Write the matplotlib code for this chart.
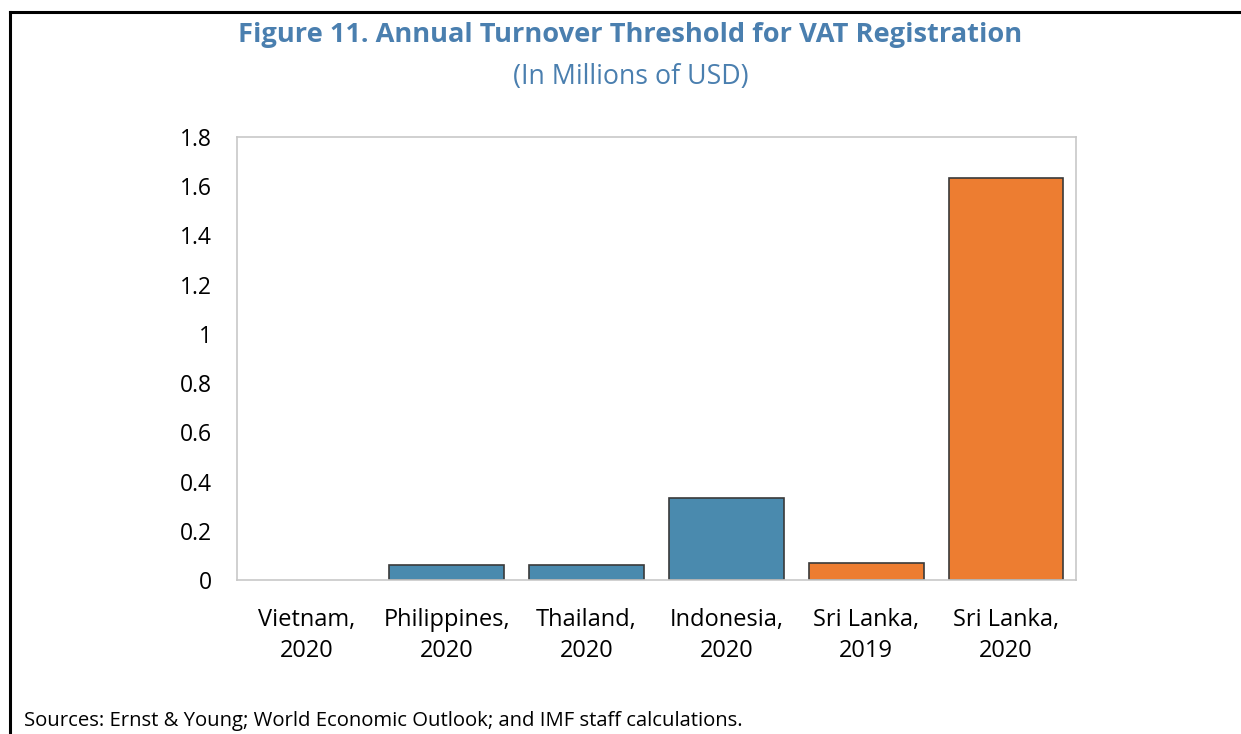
import matplotlib.pyplot as plt
from matplotlib.lines import Line2D
from matplotlib.ticker import FuncFormatter

plt.rcParams['font.family'] = ['Open Sans', 'DejaVu Sans']

categories = ["Vietnam,\n2020", "Philippines,\n2020", "Thailand,\n2020",
              "Indonesia,\n2020", "Sri Lanka,\n2019", "Sri Lanka,\n2020"]
thresholds = [0.0, 0.061, 0.061, 0.333, 0.069, 1.634]
bar_colors = ["#4A8AAE"] * 4 + ["#ED7D31"] * 2

fig = plt.figure(figsize=(12.41, 7.34), dpi=100)
ax = fig.add_axes([0.191, 0.2098, 0.676, 0.6036])

x = range(len(categories))
edges = ["#3a3a3a" if v > 0 else "none" for v in thresholds]
ax.bar(x, thresholds, width=0.82, color=bar_colors, edgecolor=edges, linewidth=1.2)

ax.set_xlim(-0.5, len(categories) - 0.5)
ax.set_ylim(0, 1.8)
ax.set_yticks([0, 0.2, 0.4, 0.6, 0.8, 1.0, 1.2, 1.4, 1.6, 1.8])
ax.yaxis.set_major_formatter(FuncFormatter(lambda v, p: f"{v:g}"))
ax.set_xticks(list(x))
ax.set_xticklabels(categories, fontsize=17, linespacing=1.4)
ax.tick_params(axis="y", length=0, pad=18, labelsize=16.5)
ax.tick_params(axis="x", length=0, pad=20)
for s in ax.spines.values():
    s.set_color("#C8C8C8")
    s.set_linewidth(1.2)

title_color = "#4A7FAF"
fig.text(0.508, 0.952, "Figure 11. Annual Turnover Threshold for VAT Registration",
         ha="center", va="center", fontsize=19.6, fontweight="bold", color=title_color)
fig.text(0.508, 0.895, "(In Millions of USD)", ha="center", va="center",
         fontsize=19.3, color=title_color)
fig.text(0.019, 0.018, "Sources: Ernst & Young; World Economic Outlook; and IMF staff calculations.",
         ha="left", va="center", fontsize=14.6, color="black")

# frame lines around the figure panel
fig.add_artist(Line2D([0.008, 1.0], [0.9837, 0.9837], color="black", linewidth=2.2))
fig.add_artist(Line2D([0.008, 0.008], [0.0, 0.9837], color="black", linewidth=2.2))

fig.savefig("out.png", dpi=100)
